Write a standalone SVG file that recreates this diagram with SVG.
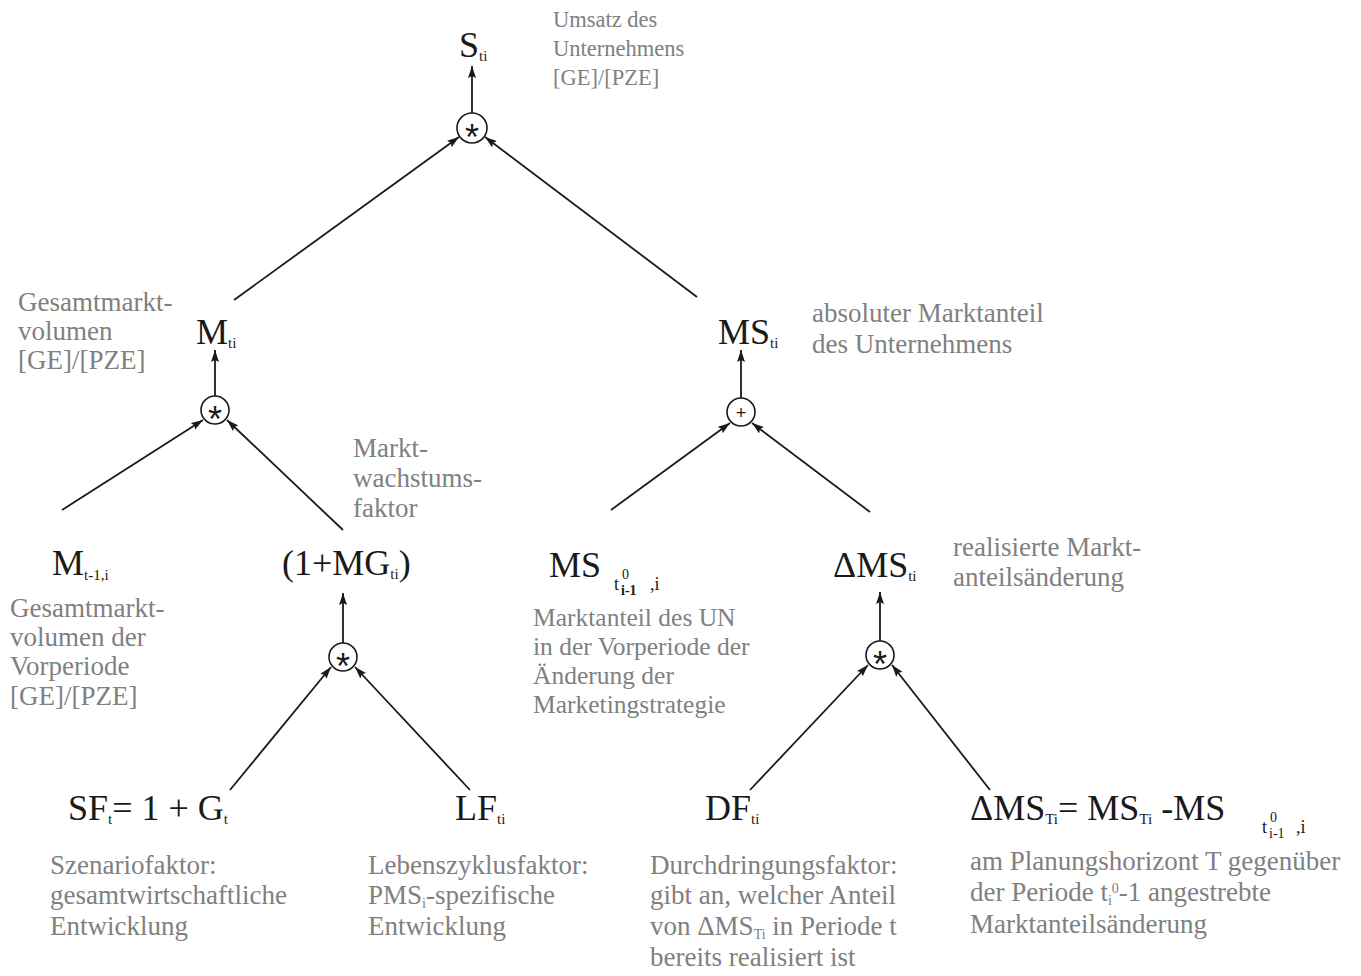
<svg xmlns="http://www.w3.org/2000/svg" width="1361" height="976" viewBox="0 0 1361 976">
<defs>
<marker id="ah" viewBox="0 0 12 8" refX="12" refY="4" markerWidth="12" markerHeight="8" markerUnits="userSpaceOnUse" orient="auto">
<path d="M0,0 L12,4 L0,8 L2,4 Z" fill="#1a1a1a"/>
</marker>
<style>
.n{font-family:"Liberation Serif","Times New Roman",serif;font-size:36px;fill:#1a1a1a}
.s{font-size:15px}
.x{font-size:14px}
.d{font-family:"Liberation Serif","Times New Roman",serif;font-size:27px;fill:#808080}
.ds{font-size:14px}
.c{fill:#fff;stroke:#1a1a1a;stroke-width:1.6}
.op{font-family:"Liberation Sans",Arial,sans-serif;font-size:36px;fill:#1a1a1a;text-anchor:middle}
.ln{stroke:#1a1a1a;stroke-width:1.8;fill:none;marker-end:url(#ah)}
</style>
</defs>
<rect width="1361" height="976" fill="#fff"/>

<g id="connectors">
<line class="ln" x1="472" y1="113" x2="472" y2="66"/>
<line class="ln" x1="234" y1="300" x2="459" y2="137"/>
<line class="ln" x1="697" y1="297" x2="485" y2="137"/>
<line class="ln" x1="215" y1="396" x2="215" y2="350"/>
<line class="ln" x1="741" y1="398" x2="741" y2="350"/>
<line class="ln" x1="62" y1="510" x2="203" y2="420"/>
<line class="ln" x1="343" y1="530" x2="227" y2="420"/>
<line class="ln" x1="611" y1="510" x2="730" y2="423"/>
<line class="ln" x1="870" y1="512" x2="752" y2="423"/>
<line class="ln" x1="343" y1="643" x2="343" y2="593"/>
<line class="ln" x1="880" y1="641" x2="880" y2="592"/>
<line class="ln" x1="230" y1="790" x2="331" y2="667"/>
<line class="ln" x1="470" y1="790" x2="355" y2="667"/>
<line class="ln" x1="750" y1="790" x2="868" y2="665"/>
<line class="ln" x1="990" y1="790" x2="892" y2="665"/>
</g>

<g id="op-top"><circle class="c" cx="472" cy="128" r="15"/><text class="op" x="472" y="150">*</text></g>
<g id="op-m"><circle class="c" cx="215" cy="410" r="14"/><text class="op" x="215" y="432">*</text></g>
<g id="op-ms"><circle class="c" cx="741" cy="412" r="14"/><text class="op" x="741" y="419" style="font-size:18px">+</text></g>
<g id="op-mg"><circle class="c" cx="343" cy="657" r="14"/><text class="op" x="343" y="679">*</text></g>
<g id="op-dms"><circle class="c" cx="880" cy="655" r="14"/><text class="op" x="880" y="677">*</text></g>

<g id="node-S">
<text class="n" x="459" y="57">S<tspan class="s" dy="4">ti</tspan></text>
<text class="d" style="font-size:22.5px"><tspan x="553" y="27">Umsatz des</tspan><tspan x="553" y="56">Unternehmens</tspan><tspan x="553" y="85">[GE]/[PZE]</tspan></text>
</g>

<g id="node-M">
<text class="n" x="196" y="344">M<tspan class="s" dy="4">ti</tspan></text>
<text class="d"><tspan x="18" y="311">Gesamtmarkt-</tspan><tspan x="18" y="340">volumen</tspan><tspan x="18" y="369">[GE]/[PZE]</tspan></text>
</g>

<g id="node-MS">
<text class="n" x="718" y="344">MS<tspan class="s" dy="4">ti</tspan></text>
<text class="d"><tspan x="812" y="322">absoluter Marktanteil</tspan><tspan x="812" y="353">des Unternehmens</tspan></text>
</g>

<g id="node-Mprev">
<text class="n" x="52" y="575">M<tspan class="s" dy="5">t-1,i</tspan></text>
<text class="d"><tspan x="10" y="617">Gesamtmarkt-</tspan><tspan x="10" y="646">volumen der</tspan><tspan x="10" y="675">Vorperiode</tspan><tspan x="10" y="705">[GE]/[PZE]</tspan></text>
</g>

<g id="node-MG">
<text class="n" x="282" y="575">(1+MG<tspan class="s" dy="4">ti</tspan><tspan dy="-4">)</tspan></text>
<text class="d"><tspan x="353" y="457">Markt-</tspan><tspan x="353" y="487">wachstums-</tspan><tspan x="353" y="517">faktor</tspan></text>
</g>

<g id="node-MS0">
<text class="n" x="549" y="577">MS</text>
<text class="n" x="614" y="590" style="font-size:18px">t</text>
<text class="n x" x="622" y="579">0</text>
<text class="n x" x="621" y="595" style="font-weight:bold">i-1</text>
<text class="n" x="650" y="590" style="font-size:18px">,i</text>
<text class="d" style="font-size:25.5px"><tspan x="533" y="626">Marktanteil des UN</tspan><tspan x="533" y="655">in der Vorperiode der</tspan><tspan x="533" y="684">Änderung der</tspan><tspan x="533" y="713">Marketingstrategie</tspan></text>
</g>

<g id="node-dMS">
<text class="n" x="833" y="577">ΔMS<tspan class="s" dy="4">ti</tspan></text>
<text class="d"><tspan x="953" y="556">realisierte Markt-</tspan><tspan x="953" y="586">anteilsänderung</tspan></text>
</g>

<g id="node-SF">
<text class="n" x="68" y="820">SF<tspan class="s" dy="4">t</tspan><tspan dy="-4">= 1 + G</tspan><tspan class="s" dy="4">t</tspan></text>
<text class="d"><tspan x="50" y="874">Szenariofaktor:</tspan><tspan x="50" y="904">gesamtwirtschaftliche</tspan><tspan x="50" y="935">Entwicklung</tspan></text>
</g>

<g id="node-LF">
<text class="n" x="455" y="820">LF<tspan class="s" dy="4">ti</tspan></text>
<text class="d"><tspan x="368" y="874">Lebenszyklusfaktor:</tspan><tspan x="368" y="904">PMS<tspan class="ds" dy="4">i</tspan><tspan dy="-4">-spezifische</tspan></tspan><tspan x="368" y="935">Entwicklung</tspan></text>
</g>

<g id="node-DF">
<text class="n" x="705" y="820">DF<tspan class="s" dy="4">ti</tspan></text>
<text class="d"><tspan x="650" y="874">Durchdringungsfaktor:</tspan><tspan x="650" y="904">gibt an, welcher Anteil</tspan><tspan x="650" y="935">von ΔMS<tspan class="ds" dy="4">Ti</tspan><tspan dy="-4"> in Periode t</tspan></tspan><tspan x="650" y="966">bereits realisiert ist</tspan></text>
</g>

<g id="node-dMST">
<text class="n" x="970" y="820">ΔMS<tspan class="s" dy="4">Ti</tspan><tspan dy="-4">= MS</tspan><tspan class="s" dy="4">Ti</tspan><tspan dy="-4"> -MS</tspan></text>
<text class="n" x="1262" y="833" style="font-size:18px">t</text>
<text class="n x" x="1270" y="822">0</text>
<text class="n x" x="1269" y="838">i-1</text>
<text class="n" x="1296" y="833" style="font-size:18px">,i</text>
<text class="d"><tspan x="970" y="870">am Planungshorizont T gegenüber</tspan><tspan x="970" y="901">der Periode t<tspan class="ds" dy="4">i</tspan><tspan class="ds" dy="-12">0</tspan><tspan dy="8">-1 angestrebte</tspan></tspan><tspan x="970" y="933">Marktanteilsänderung</tspan></text>
</g>
</svg>
